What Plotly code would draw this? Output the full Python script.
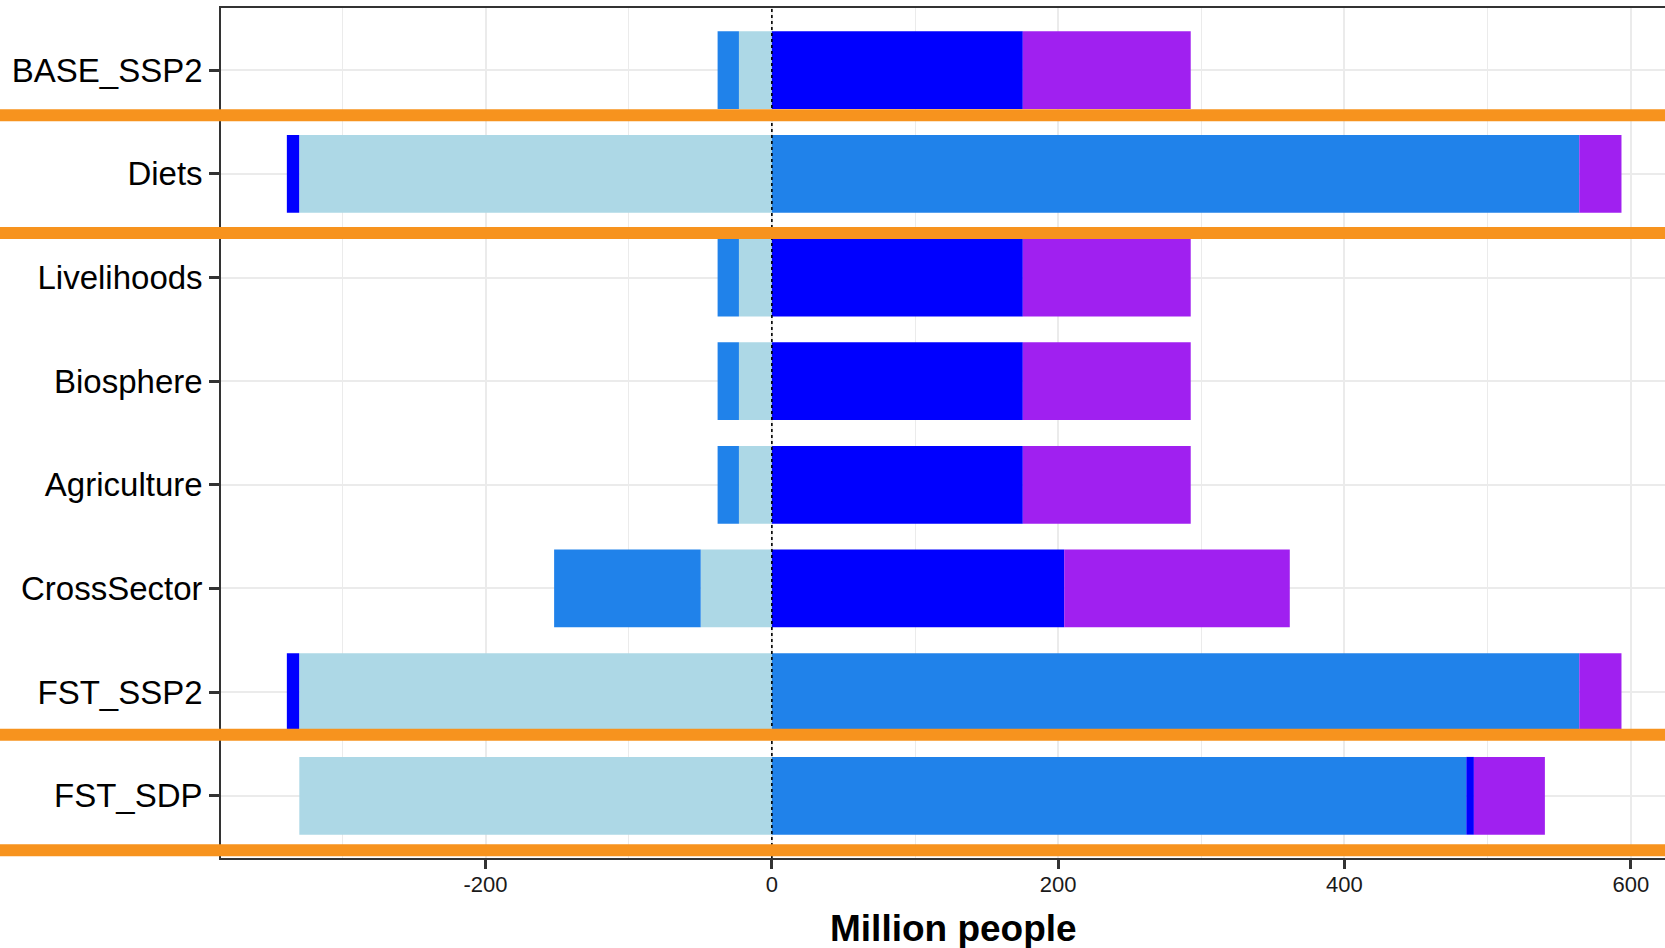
import plotly.graph_objects as go

# Scenarios, top to bottom
scenarios = ["BASE_SSP2", "Diets", "Livelihoods", "Biosphere",
             "Agriculture", "CrossSector", "FST_SSP2", "FST_SDP"]

# Change in million people for each component (negative = fewer people)
light_blue_vals = [-23.0, -330.2, -23.0, -23.0, -23.0, -49.7, -330.2, -330.1]
dodger_blue_vals = [-14.9, 564.0, -14.9, -14.9, -14.9, -102.4, 564.0, 485.1]
blue_vals = [175.3, -8.6, 175.3, 175.3, 175.3, 204.2, -8.6, 5.3]
purple_vals = [117.3, 29.5, 117.3, 117.3, 117.3, 157.6, 29.5, 49.6]

x_major_ticks = [-200, 0, 200, 400, 600]
x_tick_labels = ["-200", "0", "200", "400", "600"]
x_minor_ticks = [-300, -100, 100, 300, 500]

# Separator rows between scenario groups (category index units)
separator_rows = [0.435, 1.57, 6.41, 7.525]

series = [
    ("light blue", light_blue_vals, "#ADD8E6"),
    ("dodger blue", dodger_blue_vals, "#2082EA"),
    ("blue", blue_vals, "#0000FF"),
    ("purple", purple_vals, "#A020F0"),
]

fig = go.Figure()
for name, vals, color in series:
    fig.add_trace(go.Bar(
        y=scenarios, x=vals, orientation="h", name=name,
        marker=dict(color=color, line=dict(width=0)),
        showlegend=False,
    ))

fig.update_layout(
    barmode="relative",
    bargap=0.25,
    width=1665, height=948,
    margin=dict(l=221, r=0, t=8, b=90),
    plot_bgcolor="white", paper_bgcolor="white",
    font=dict(family="Liberation Sans, Arial, sans-serif", color="black"),
)

fig.update_xaxes(
    range=[-384.8, 623.9],
    tickvals=x_major_ticks, ticktext=x_tick_labels,
    ticks="outside", ticklen=9, tickwidth=2.5, tickcolor="#333333",
    tickfont=dict(size=22, color="#1a1a1a"),
    ticklabelstandoff=-3,
    showgrid=True, gridcolor="#EBEBEB", gridwidth=2.2,
    minor=dict(tickvals=x_minor_ticks, showgrid=True,
               gridcolor="#EBEBEB", gridwidth=1.1, ticks=""),
    showline=True, linecolor="#333333", linewidth=1.6, mirror=True,
    zeroline=False,
)

fig.update_yaxes(
    type="category",
    categoryorder="array", categoryarray=scenarios,
    range=[7.6, -0.6],
    ticks="outside", ticklen=10, tickwidth=2.5, tickcolor="#333333",
    tickfont=dict(size=33, color="black"),
    ticklabelstandoff=0,
    showgrid=True, gridcolor="#EBEBEB", gridwidth=2.2,
    showline=True, linecolor="#333333", linewidth=1.6,
    zeroline=False,
)

# Dotted reference line at zero
fig.add_shape(type="line", xref="x", yref="paper", x0=0, x1=0, y0=0, y1=1,
              line=dict(color="black", width=1.6, dash="dot"), layer="above")

# Orange separators spanning the full width
for pos in separator_rows:
    fig.add_shape(type="line", xref="paper", yref="y",
                  x0=-221 / 1444, x1=1, y0=pos, y1=pos,
                  line=dict(color="#F7931E", width=12), layer="above")

fig.add_annotation(
    text="<b>Million people</b>", showarrow=False,
    xref="paper", yref="paper", x=0.5076, y=-0.083,
    xanchor="center", yanchor="middle",
    font=dict(size=37, color="black"),
)

fig.write_html("out.html")
